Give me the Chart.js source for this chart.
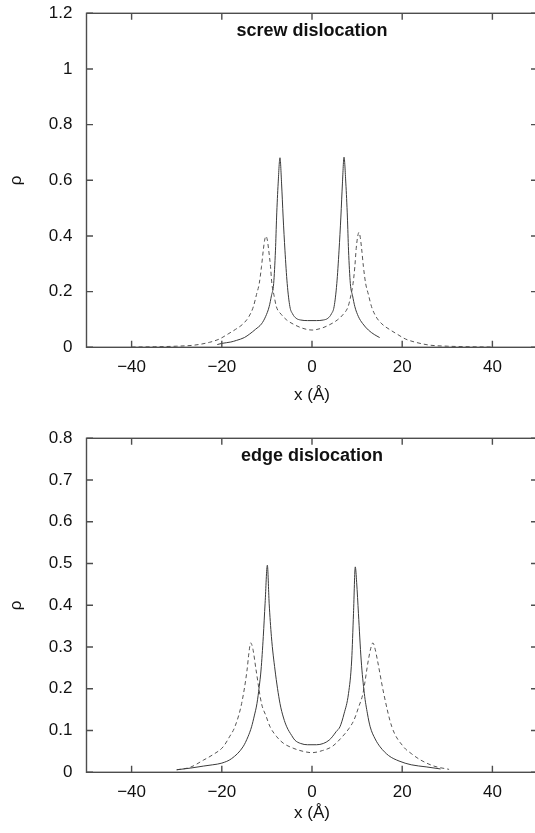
<!DOCTYPE html>
<html lang="en">
<head>
  <meta charset="UTF-8" />
  <title>Dislocation core densities</title>
  <script src="https://cdn.jsdelivr.net/npm/chart.js"></script>
  <style>
    html, body { margin: 0; padding: 0; background: #fff; overflow: hidden; }
    #wrap { position: relative; width: 535px; height: 833px; overflow: hidden; }
    canvas { position: absolute; left: 0; }
    #screwChart { top: 0; }
    #edgeChart { top: 420px; }
  </style>
</head>
<body>
  <div id="wrap">
    <canvas id="screwChart" width="545" height="420"></canvas>
    <canvas id="edgeChart" width="545" height="413"></canvas>
  </div>

  <script>
    // tick positions
    const xTicks = [-40, -20, 0, 20, 40];
    const screwTicks = [0, 0.2, 0.4, 0.6, 0.8, 1, 1.2];
    const edgeTicks = [0, 0.1, 0.2, 0.3, 0.4, 0.5, 0.6, 0.7, 0.8];

    // screw dislocation, solid curve
    const screwSolidX = [-21, -20, -18, -16.7, -15, -13.8, -12.5, -11.2, -10.3, -9.5, -9, -8.5, -8.1, -7.85, -7.5, -7.1, -6.75, -6.4, -6, -5.5, -4.9, -4.3, -3.5, -2.5, -1, 0, 1, 2.5, 3.5, 4.3, 4.9, 5.5, 6, 6.4, 6.75, 7.1, 7.5, 7.85, 8.1, 8.5, 9, 9.5, 10.3, 11.2, 12.5, 13.8, 15];
    const screwSolidRho = [0.010, 0.014, 0.019, 0.025, 0.035, 0.048, 0.065, 0.084, 0.11, 0.146, 0.185, 0.229, 0.349, 0.468, 0.59, 0.681, 0.59, 0.468, 0.349, 0.229, 0.146, 0.12, 0.104, 0.098, 0.096, 0.096, 0.096, 0.098, 0.104, 0.12, 0.146, 0.229, 0.349, 0.468, 0.59, 0.683, 0.59, 0.468, 0.349, 0.229, 0.185, 0.146, 0.11, 0.086, 0.062, 0.046, 0.035];

    // screw dislocation, dashed curve
    const screwDashX = [-40, -35, -30, -26, -22.7, -20.5, -18.6, -17, -15.3, -14, -13, -12.3, -11.7, -11.2, -10.8, -10.5, -10.2, -9.9, -9.6, -9.2, -8.9, -8.4, -7.9, -6.8, -5.6, -4, -2, 0, 2, 4, 5.6, 6.9, 8, 8.6, 9.1, 9.5, 9.8, 10.1, 10.4, 10.7, 11, 11.4, 11.9, 12.5, 13.2, 14.2, 15.5, 17.2, 18.8, 20.7, 23, 26, 30, 35, 40];
    const screwDashRho = [0.001, 0.002, 0.004, 0.008, 0.018, 0.03, 0.048, 0.064, 0.084, 0.11, 0.146, 0.19, 0.229, 0.29, 0.349, 0.385, 0.399, 0.385, 0.349, 0.29, 0.229, 0.185, 0.146, 0.118, 0.098, 0.082, 0.068, 0.062, 0.068, 0.082, 0.098, 0.118, 0.146, 0.185, 0.229, 0.29, 0.355, 0.395, 0.413, 0.395, 0.355, 0.29, 0.229, 0.19, 0.146, 0.11, 0.084, 0.064, 0.048, 0.03, 0.018, 0.008, 0.004, 0.002, 0.001];

    // edge dislocation, solid curve
    const edgeSolidX = [-30, -27, -24, -22, -20, -17.8, -15.3, -14.2, -13.4, -12.8, -12.2, -11.7, -11.3, -10.8, -10.4, -9.9, -9.5, -9, -8.2, -7.1, -6.3, -5.6, -4.5, -3.8, -2.5, -1, 0, 1, 2.5, 3.8, 4.5, 5.4, 6.2, 7.1, 8.1, 8.8, 9.2, 9.6, 9.9, 10.3, 10.9, 11.6, 12.3, 12.9, 14, 15.1, 17, 19.3, 22, 25.3, 28.5];
    const edgeSolidRho = [0.006, 0.010, 0.015, 0.018, 0.022, 0.033, 0.061, 0.085, 0.109, 0.135, 0.165, 0.205, 0.245, 0.325, 0.405, 0.496, 0.405, 0.325, 0.245, 0.165, 0.13, 0.109, 0.088, 0.077, 0.069, 0.066, 0.066, 0.066, 0.069, 0.077, 0.085, 0.098, 0.109, 0.14, 0.189, 0.269, 0.38, 0.492, 0.455, 0.38, 0.269, 0.189, 0.14, 0.109, 0.08, 0.061, 0.04, 0.027, 0.018, 0.013, 0.008];

    // edge dislocation, dashed curve
    const edgeDashX = [-30, -27, -24.1, -22, -19.7, -18.3, -17.1, -15.6, -14.4, -14, -13.6, -13.1, -12.4, -11.2, -10.2, -9.3, -7.8, -6.4, -4, -1.9, 0, 2.3, 4.5, 6.7, 8.2, 9.3, 10.3, 11.3, 12.5, 13.1, 13.5, 14, 14.5, 15.9, 17.7, 20.3, 22, 24, 27, 30.4];
    const edgeDashRho = [0.006, 0.012, 0.029, 0.042, 0.061, 0.085, 0.109, 0.165, 0.245, 0.285, 0.31, 0.295, 0.245, 0.165, 0.135, 0.109, 0.085, 0.07, 0.057, 0.05, 0.047, 0.052, 0.062, 0.085, 0.105, 0.125, 0.155, 0.189, 0.269, 0.30, 0.31, 0.295, 0.269, 0.189, 0.109, 0.061, 0.045, 0.03, 0.015, 0.007];

    Chart.defaults.font.family = '"Liberation Sans", Arial, sans-serif';
    Chart.defaults.font.size = 17;
    Chart.defaults.color = '#111';
    Chart.defaults.animation = false;

    const pts = (xs, ys) => xs.map((x, i) => ({ x: x, y: ys[i] }));
    const minus = v => String(v).replace('-', '\u2212');

    // gnuplot-style frame: box border with ticks pointing inward on all four sides
    const frameTicks = {
      id: 'frameTicks',
      afterDraw(chart, args, opts) {
        const { ctx, chartArea: a, scales: { x, y } } = chart;
        const len = 6.5;
        ctx.save();
        ctx.strokeStyle = '#4d4d4d';
        ctx.lineWidth = 1.4;
        ctx.strokeRect(a.left, a.top, a.right - a.left, a.bottom - a.top);
        ctx.beginPath();
        x.ticks.forEach(t => {
          const px = x.getPixelForValue(t.value);
          ctx.moveTo(px, a.bottom); ctx.lineTo(px, a.bottom - len);
          ctx.moveTo(px, a.top); ctx.lineTo(px, a.top + len);
        });
        y.ticks.forEach(t => {
          const py = y.getPixelForValue(t.value);
          ctx.moveTo(a.left, py); ctx.lineTo(a.left + len, py);
          ctx.moveTo(a.right, py); ctx.lineTo(a.right - len, py);
        });
        ctx.stroke();

        ctx.font = 'bold 18px "Liberation Sans", Arial, sans-serif';
        ctx.fillStyle = '#111';
        ctx.textAlign = 'center';
        ctx.textBaseline = 'middle';
        ctx.fillText(opts.text, x.getPixelForValue(0), a.top + 17.7);
        ctx.restore();
      }
    };

    function makeChart(id, caption, solid, dashed, yMax, yTicks, topPad, axisHeight, titlePad) {
      return new Chart(document.getElementById(id), {
        type: 'scatter',
        data: {
          datasets: [
            {
              data: solid,
              showLine: true,
              borderColor: '#3a3a3a',
              borderWidth: 1,
              pointRadius: 0,
              cubicInterpolationMode: 'monotone'
            },
            {
              data: dashed,
              showLine: true,
              borderColor: '#555',
              borderWidth: 1,
              borderDash: [4, 3],
              pointRadius: 0,
              cubicInterpolationMode: 'monotone'
            }
          ]
        },
        options: {
          responsive: false,
          events: [],
          layout: { padding: { top: topPad, right: 7.5, bottom: 0, left: 0 } },
          plugins: {
            legend: { display: false },
            tooltip: { enabled: false },
            frameTicks: { text: caption }
          },
          scales: {
            x: {
              type: 'linear',
              min: -50,
              max: 50,
              // hidden grid; tickLength only spaces the labels off the axis
              grid: { display: false, tickLength: 9.5 },
              border: { display: false },
              afterBuildTicks: s => { s.ticks = xTicks.map(v => ({ value: v })); },
              afterFit: s => { s.height = axisHeight; },
              ticks: { padding: 0, callback: v => minus(v) },
              title: { display: true, text: 'x (Å)', padding: { top: 0, bottom: titlePad } }
            },
            y: {
              type: 'linear',
              min: 0,
              max: yMax,
              grid: { display: false, tickLength: 14 },
              border: { display: false },
              afterBuildTicks: s => { s.ticks = yTicks.map(v => ({ value: v })); },
              afterFit: s => { s.width = 86.5; },
              ticks: { padding: 0, callback: v => String(v) },
              title: { display: true, text: 'ρ', padding: { top: 6, bottom: 0 } }
            }
          }
        },
        plugins: [frameTicks]
      });
    }

    makeChart('screwChart', 'screw dislocation',
      pts(screwSolidX, screwSolidRho), pts(screwDashX, screwDashRho),
      1.2, screwTicks, 13.3, 72.7, 14.8);

    makeChart('edgeChart', 'edge dislocation',
      pts(edgeSolidX, edgeSolidRho), pts(edgeDashX, edgeDashRho),
      0.8, edgeTicks, 18.3, 60.7, 9.8);
  </script>
</body>
</html>
